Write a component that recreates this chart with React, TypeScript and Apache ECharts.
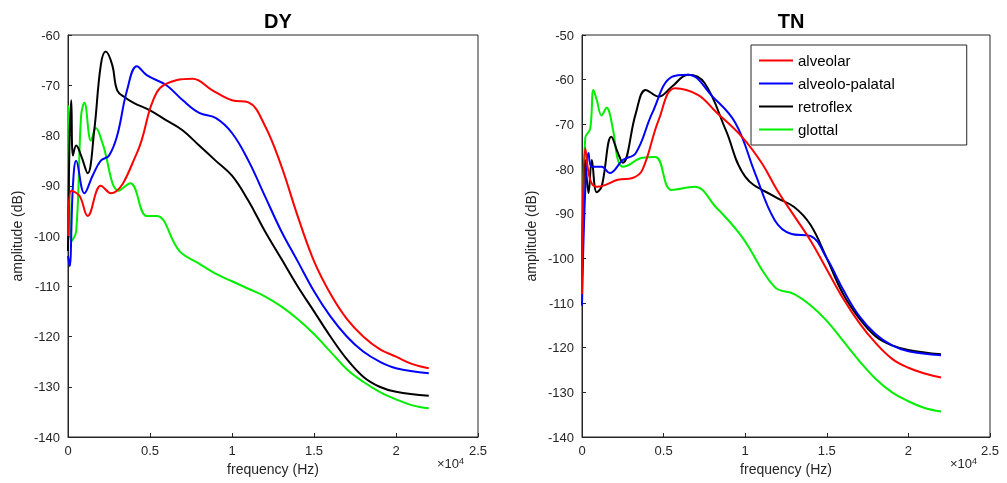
import { useEffect, useRef } from 'react';
import * as echarts from 'echarts';

// frequency in units of 1e4 Hz, amplitude in dB
const dyAlveolar = [[0,-100],[0.02,-91],[0.07,-92],[0.12,-96],[0.2,-90],[0.26,-91.5],[0.42,-83.5],[0.54,-71.5],[0.66,-69],[0.76,-68.7],[0.88,-71],[1.0,-73],[1.1,-73.4],[1.2,-78],[1.3,-86],[1.4,-96],[1.5,-105],[1.6,-111.5],[1.7,-116.5],[1.8,-120],[1.9,-122.5],[2.0,-124],[2.1,-125.5],[2.2,-126.3]];
const dyPalatal = [[0,-104],[0.01,-106],[0.03,-90],[0.05,-85],[0.1,-91.5],[0.15,-88],[0.2,-85],[0.25,-84],[0.3,-80],[0.36,-71],[0.42,-66.2],[0.48,-68],[0.6,-70],[0.7,-73],[0.8,-75.5],[0.9,-76.5],[1.0,-79.5],[1.1,-85],[1.2,-92],[1.3,-99],[1.4,-105],[1.5,-111],[1.6,-116],[1.7,-120],[1.8,-123],[1.9,-125],[2.0,-126.3],[2.2,-127.3]];
const dyRetroflex = [[0,-103],[0.01,-80],[0.02,-73],[0.03,-84],[0.05,-82],[0.08,-84],[0.12,-87.5],[0.16,-79],[0.2,-66],[0.23,-63.3],[0.27,-66],[0.3,-71],[0.35,-72.5],[0.4,-73.5],[0.5,-75],[0.6,-77],[0.7,-79],[0.8,-82],[0.9,-85],[1.0,-88],[1.1,-93],[1.2,-99],[1.3,-104.5],[1.4,-110],[1.5,-115],[1.6,-120],[1.7,-124.5],[1.8,-128],[1.9,-130],[2.0,-131],[2.2,-131.8]];
const dyGlottal = [[0,-74],[0.01,-95],[0.02,-101],[0.05,-99],[0.08,-76],[0.1,-73.5],[0.14,-81],[0.17,-78.5],[0.21,-81.5],[0.31,-91],[0.38,-89.5],[0.48,-96],[0.54,-96],[0.68,-103],[0.8,-105.5],[0.9,-107.5],[1.0,-109],[1.1,-110.5],[1.2,-112],[1.3,-114],[1.4,-116.5],[1.5,-119.5],[1.6,-123],[1.7,-126.5],[1.8,-129],[1.9,-131],[2.0,-132.5],[2.1,-133.7],[2.2,-134.3]];

const tnAlveolar = [[0,-108],[0.02,-75.3],[0.05,-82.4],[0.09,-84],[0.14,-83.6],[0.22,-82.4],[0.31,-82],[0.37,-80.2],[0.47,-69],[0.57,-61.9],[0.71,-63.4],[0.82,-67.2],[0.98,-72.8],[1.1,-78.6],[1.2,-85],[1.3,-90.5],[1.4,-96],[1.5,-102.5],[1.6,-109],[1.7,-114.5],[1.8,-119],[1.9,-122.5],[2.0,-124.5],[2.1,-125.8],[2.2,-126.7]];
const tnPalatal = [[0,-110.6],[0.02,-84.7],[0.04,-76.4],[0.06,-79.5],[0.12,-79.5],[0.17,-80.9],[0.25,-78],[0.33,-76.4],[0.43,-67.5],[0.55,-59.4],[0.65,-58.9],[0.8,-63.8],[0.94,-69.7],[1.06,-80.9],[1.18,-91.4],[1.28,-94.5],[1.4,-95],[1.5,-100],[1.6,-107],[1.7,-113],[1.8,-117],[1.9,-119.5],[2.0,-120.8],[2.2,-121.7]];
const tnRetroflex = [[0,-105.5],[0.02,-78],[0.04,-85.4],[0.06,-78],[0.09,-85.2],[0.12,-84],[0.18,-72.8],[0.22,-76.4],[0.25,-78.6],[0.33,-67.5],[0.39,-62.3],[0.47,-63.8],[0.55,-61.6],[0.65,-58.9],[0.75,-60.7],[0.88,-71.2],[1.0,-81.7],[1.18,-86.2],[1.3,-88.5],[1.4,-92.5],[1.5,-100],[1.6,-108],[1.7,-113.5],[1.8,-117.5],[1.9,-119.5],[2.0,-120.5],[2.2,-121.5]];
const tnGlottal = [[0,-103],[0.02,-73],[0.05,-71],[0.07,-62.3],[0.09,-64.5],[0.12,-68],[0.15,-66.3],[0.19,-71.2],[0.22,-78],[0.25,-79.5],[0.37,-77.5],[0.45,-77.3],[0.55,-84.7],[0.69,-84],[0.82,-88.5],[0.98,-95.2],[1.18,-106.4],[1.3,-108],[1.4,-110.5],[1.5,-114],[1.6,-118.5],[1.7,-123],[1.8,-127],[1.9,-130],[2.0,-132],[2.1,-133.5],[2.2,-134.3]];

const names = ['alveolar', 'alveolo-palatal', 'retroflex', 'glottal'];
const colors = ['#ff0000', '#0000ff', '#000000', '#00ee00'];

const font = 'Liberation Sans, Arial, sans-serif';

export default function App() {
  const ref = useRef<HTMLDivElement>(null);

  useEffect(() => {
    if (!ref.current) return;
    const chart = echarts.init(ref.current, null, { renderer: 'svg' });

    const grids = [
      { left: 68, top: 35, width: 410, height: 402 },
      { left: 582, top: 35, width: 408, height: 402 },
    ];
    const axisText = { color: '#262626', fontSize: 13, fontFamily: font };
    const xAxes = grids.map((_, i) => ({
      type: 'value', gridIndex: i, min: 0, max: 2.5, interval: 0.5,
      name: 'frequency (Hz)', nameLocation: 'middle', nameGap: 24,
      nameTextStyle: { ...axisText, fontSize: 14 },
      axisLine: { lineStyle: { color: '#262626' } },
      axisTick: { inside: true, length: 4, lineStyle: { color: '#262626' } },
      axisLabel: { ...axisText, margin: 7 },
      splitLine: { show: false },
    }));
    const yAxes = [
      { min: -140, max: -60 },
      { min: -140, max: -50 },
    ].map((r, i) => ({
      type: 'value', gridIndex: i, ...r, interval: 10,
      name: 'amplitude (dB)', nameLocation: 'middle', nameGap: 44,
      nameTextStyle: { ...axisText, fontSize: 14 },
      axisLine: { show: true, lineStyle: { color: '#262626' } },
      axisTick: { show: true, inside: true, length: 4, lineStyle: { color: '#262626' } },
      axisLabel: { ...axisText, margin: 8 },
      splitLine: { show: false },
    }));

    const mk = (data: number[][], k: number, g: number) => ({
      type: 'line', name: names[k], xAxisIndex: g, yAxisIndex: g, data,
      smooth: 0.4, showSymbol: false, symbol: 'none',
      lineStyle: { color: colors[k], width: 2 }, itemStyle: { color: colors[k] },
      z: 10 - k,
    });

    const series = [
      ...[dyAlveolar, dyPalatal, dyRetroflex, dyGlottal].map((d, k) => mk(d, k, 0)),
      ...[tnAlveolar, tnPalatal, tnRetroflex, tnGlottal].map((d, k) => mk(d, k, 1)),
    ];

    const exp = (x: number) => ({
      type: 'text', left: x, top: 456,
      style: {
        text: '×10{s|4}', fill: '#262626', font: `13px ${font}`,
        rich: { s: { fontSize: 9, verticalAlign: 'top', fill: '#262626', padding: [0, 0, 6, 0] } },
      },
    });

    chart.setOption({
      animation: false,
      title: [
        { text: 'DY', left: 273, top: 6, textAlign: 'center', textStyle: { fontSize: 20, fontWeight: 'bold', fontFamily: font, color: '#000' } },
        { text: 'TN', left: 786, top: 6, textAlign: 'center', textStyle: { fontSize: 20, fontWeight: 'bold', fontFamily: font, color: '#000' } },
      ],
      grid: grids.map(g => ({ ...g, show: true, borderColor: '#262626', borderWidth: 1, backgroundColor: '#fff' })),
      xAxis: xAxes,
      yAxis: yAxes,
      legend: {
        data: names, orient: 'vertical', left: 751, top: 45,
        backgroundColor: '#fff', borderColor: '#262626', borderWidth: 1,
        padding: [8, 72, 8, 8], itemGap: 8, itemWidth: 34, itemHeight: 2,
        icon: 'rect',
        textStyle: { fontSize: 15, fontFamily: font, color: '#000' },
      },
      graphic: [exp(437), exp(950)],
      series,
    });

    return () => chart.dispose();
  }, []);

  return <div ref={ref} style={{ position: 'fixed', left: 0, top: 0, width: 1007, height: 483 }} />;
}
